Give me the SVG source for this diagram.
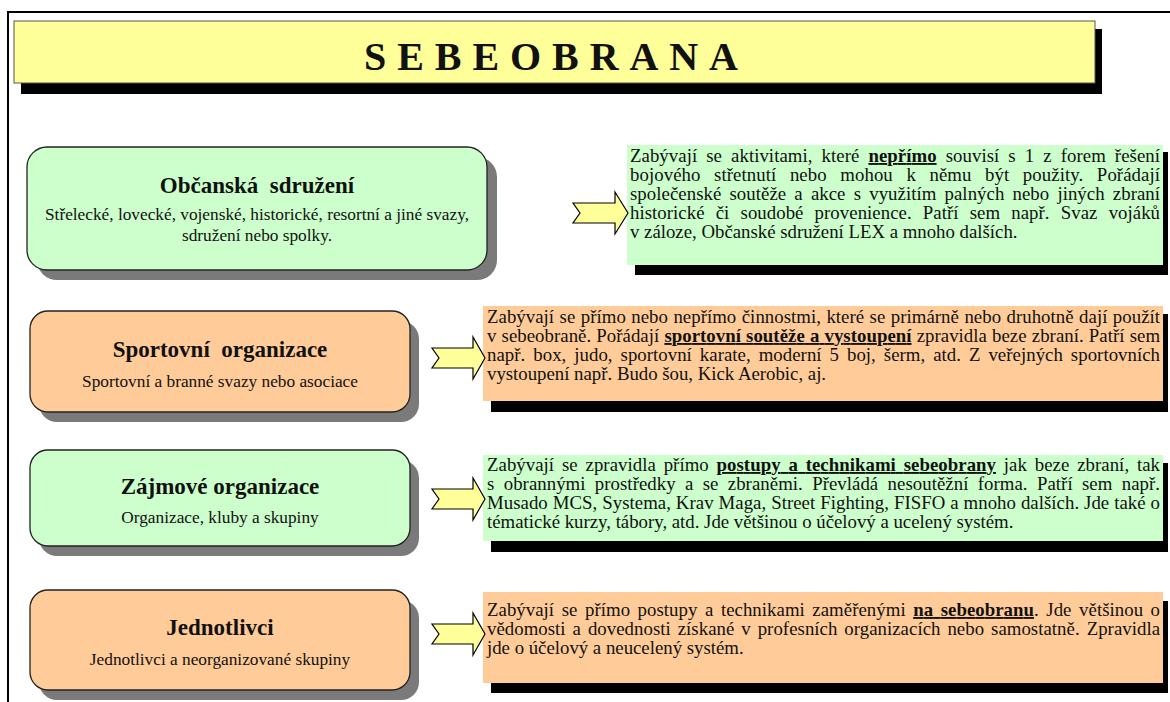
<svg xmlns="http://www.w3.org/2000/svg" width="1170" height="702" viewBox="0 0 1170 702">
<defs>
<style>
.frame{fill:none;stroke:#000;stroke-width:2}
.banner{fill:#FFFF99;stroke:#555;stroke-width:1}
.bshadow{fill:#000}
.nshadow{fill:#7a7a7a}
.green{fill:#CCFFCC}
.orange{fill:#FFCC99}
.node{stroke:#222;stroke-width:1.3}
.arrow{fill:#FFFF99;stroke:#000;stroke-width:1.2;stroke-linejoin:miter}
text{font-family:"Liberation Serif","Times New Roman",serif;fill:#111}
.title{font-size:40px;font-weight:bold}
.ntitle{font-size:23px;font-weight:bold;text-anchor:middle}
.nsub{font-size:17.3px;text-anchor:middle}
.desc{font-size:18.8px}
.bu{font-weight:bold;text-decoration:underline}
</style>
</defs>
<rect width="1170" height="702" fill="#fff"/>
<path class="frame" d="M8,702 V12 H1170"/>
<g id="title">
<rect class="bshadow" x="21" y="29" width="1081" height="65"/>
<rect class="banner" x="14" y="21" width="1081" height="62"/>
<text class="title" x="364" y="70" textLength="374" lengthAdjust="spacing">SEBEOBRANA</text>
</g>
<g id="node-obcanska">
<rect class="nshadow" x="37" y="157" width="460" height="123" rx="20"/>
<rect class="green node" x="27" y="147" width="460" height="123" rx="20"/>
<text class="ntitle" x="257" y="193" xml:space="preserve">Občanská  sdružení</text>
<text class="nsub" x="257" y="220">Střelecké, lovecké, vojenské, historické, resortní a jiné svazy,</text>
<text class="nsub" x="257" y="241">sdružení nebo spolky.</text>
</g>
<g id="desc-obcanska">
<rect class="bshadow" x="635" y="152" width="533" height="123"/>
<rect class="green" x="627" y="145" width="536" height="120"/>
<text class="desc" x="630" y="162" word-spacing="4.3" textLength="530" lengthAdjust="spacing">Zabývají se aktivitami, které <tspan class="bu">nepřímo</tspan> souvisí s 1 z forem řešení</text>
<text class="desc" x="630" y="181" word-spacing="8.8" textLength="530" lengthAdjust="spacing">bojového střetnutí nebo mohou k němu být použity. Pořádají</text>
<text class="desc" x="630" y="200" word-spacing="3.4" textLength="530" lengthAdjust="spacing">společenské soutěže a akce s využitím palných nebo jiných zbraní</text>
<text class="desc" x="630" y="219" word-spacing="6.4" textLength="530" lengthAdjust="spacing">historické či soudobé provenience. Patří sem např. Svaz vojáků</text>
<text class="desc" x="630" y="238">v záloze, Občanské sdružení LEX a mnoho dalších.</text>
</g>
<g id="node-sportovni">
<rect class="nshadow" x="39" y="321" width="380" height="101" rx="18"/>
<rect class="orange node" x="30" y="311" width="380" height="101" rx="18"/>
<text class="ntitle" x="220" y="357" xml:space="preserve">Sportovní  organizace</text>
<text class="nsub" x="220" y="387">Sportovní a branné svazy nebo asociace</text>
</g>
<g id="desc-sportovni">
<rect class="bshadow" x="491" y="314" width="677" height="98"/>
<rect class="orange" x="483" y="306" width="680" height="95"/>
<text class="desc" x="487" y="323" word-spacing="0.7" textLength="673" lengthAdjust="spacing">Zabývají se přímo nebo nepřímo činnostmi, které se primárně nebo druhotně dají použít</text>
<text class="desc" x="487" y="342" word-spacing="0.4" textLength="673" lengthAdjust="spacing">v sebeobraně. Pořádají <tspan class="bu">sportovní soutěže a vystoupení</tspan> zpravidla beze zbraní. Patří sem</text>
<text class="desc" x="487" y="361" word-spacing="3.2" textLength="673" lengthAdjust="spacing">např. box, judo, sportovní karate, moderní 5 boj, šerm, atd. Z veřejných sportovních</text>
<text class="desc" x="487" y="380">vystoupení např. Budo šou, Kick Aerobic, aj.</text>
</g>
<g id="node-zajmove">
<rect class="nshadow" x="39" y="460" width="380" height="96" rx="18"/>
<rect class="green node" x="30" y="450" width="380" height="96" rx="18"/>
<text class="ntitle" x="220" y="494">Zájmové organizace</text>
<text class="nsub" x="220" y="523">Organizace, kluby a skupiny</text>
</g>
<g id="desc-zajmove">
<rect class="bshadow" x="491" y="463" width="677" height="89"/>
<rect class="green" x="483" y="455" width="680" height="86"/>
<text class="desc" x="487" y="471" word-spacing="3.1" textLength="673" lengthAdjust="spacing">Zabývají se zpravidla přímo <tspan class="bu">postupy a technikami sebeobrany</tspan> jak beze zbraní, tak</text>
<text class="desc" x="487" y="490" word-spacing="4.6" textLength="673" lengthAdjust="spacing">s obrannými prostředky a se zbraněmi. Převládá nesoutěžní forma. Patří sem např.</text>
<text class="desc" x="487" y="509" word-spacing="0.2" textLength="673" lengthAdjust="spacing">Musado MCS, Systema, Krav Maga, Street Fighting, FISFO a mnoho dalších. Jde také o</text>
<text class="desc" x="487" y="528">tématické kurzy, tábory, atd. Jde většinou o účelový a ucelený systém.</text>
</g>
<g id="node-jednotlivci">
<rect class="nshadow" x="39" y="600" width="380" height="100" rx="18"/>
<rect class="orange node" x="30" y="590" width="380" height="100" rx="18"/>
<text class="ntitle" x="220" y="635">Jednotlivci</text>
<text class="nsub" x="220" y="665">Jednotlivci a neorganizované skupiny</text>
</g>
<g id="desc-jednotlivci">
<rect class="bshadow" x="491" y="601" width="677" height="92"/>
<rect class="orange" x="483" y="592" width="680" height="91"/>
<text class="desc" x="487" y="616" word-spacing="2.8" textLength="673" lengthAdjust="spacing">Zabývají se přímo postupy a technikami zaměřenými <tspan class="bu">na sebeobranu</tspan>. Jde většinou o</text>
<text class="desc" x="487" y="635" word-spacing="2.2" textLength="673" lengthAdjust="spacing">vědomosti a dovednosti získané v profesních organizacích nebo samostatně. Zpravidla</text>
<text class="desc" x="487" y="654">jde o účelový a neucelený systém.</text>
</g>
<g id="connectors">
<path class="arrow" d="M573,203 H615 V192 L628,213 L615,234 V223 H573 L580,213 Z"/>
<path class="arrow" d="M432,348 H473 V337 L485,358 L473,379 V368 H432 L439,358 Z"/>
<path class="arrow" d="M432,489 H473 V478 L485,499 L473,520 V509 H432 L439,499 Z"/>
<path class="arrow" d="M432,624 H473 V613 L485,634 L473,655 V644 H432 L439,634 Z"/>
</g>
</svg>
